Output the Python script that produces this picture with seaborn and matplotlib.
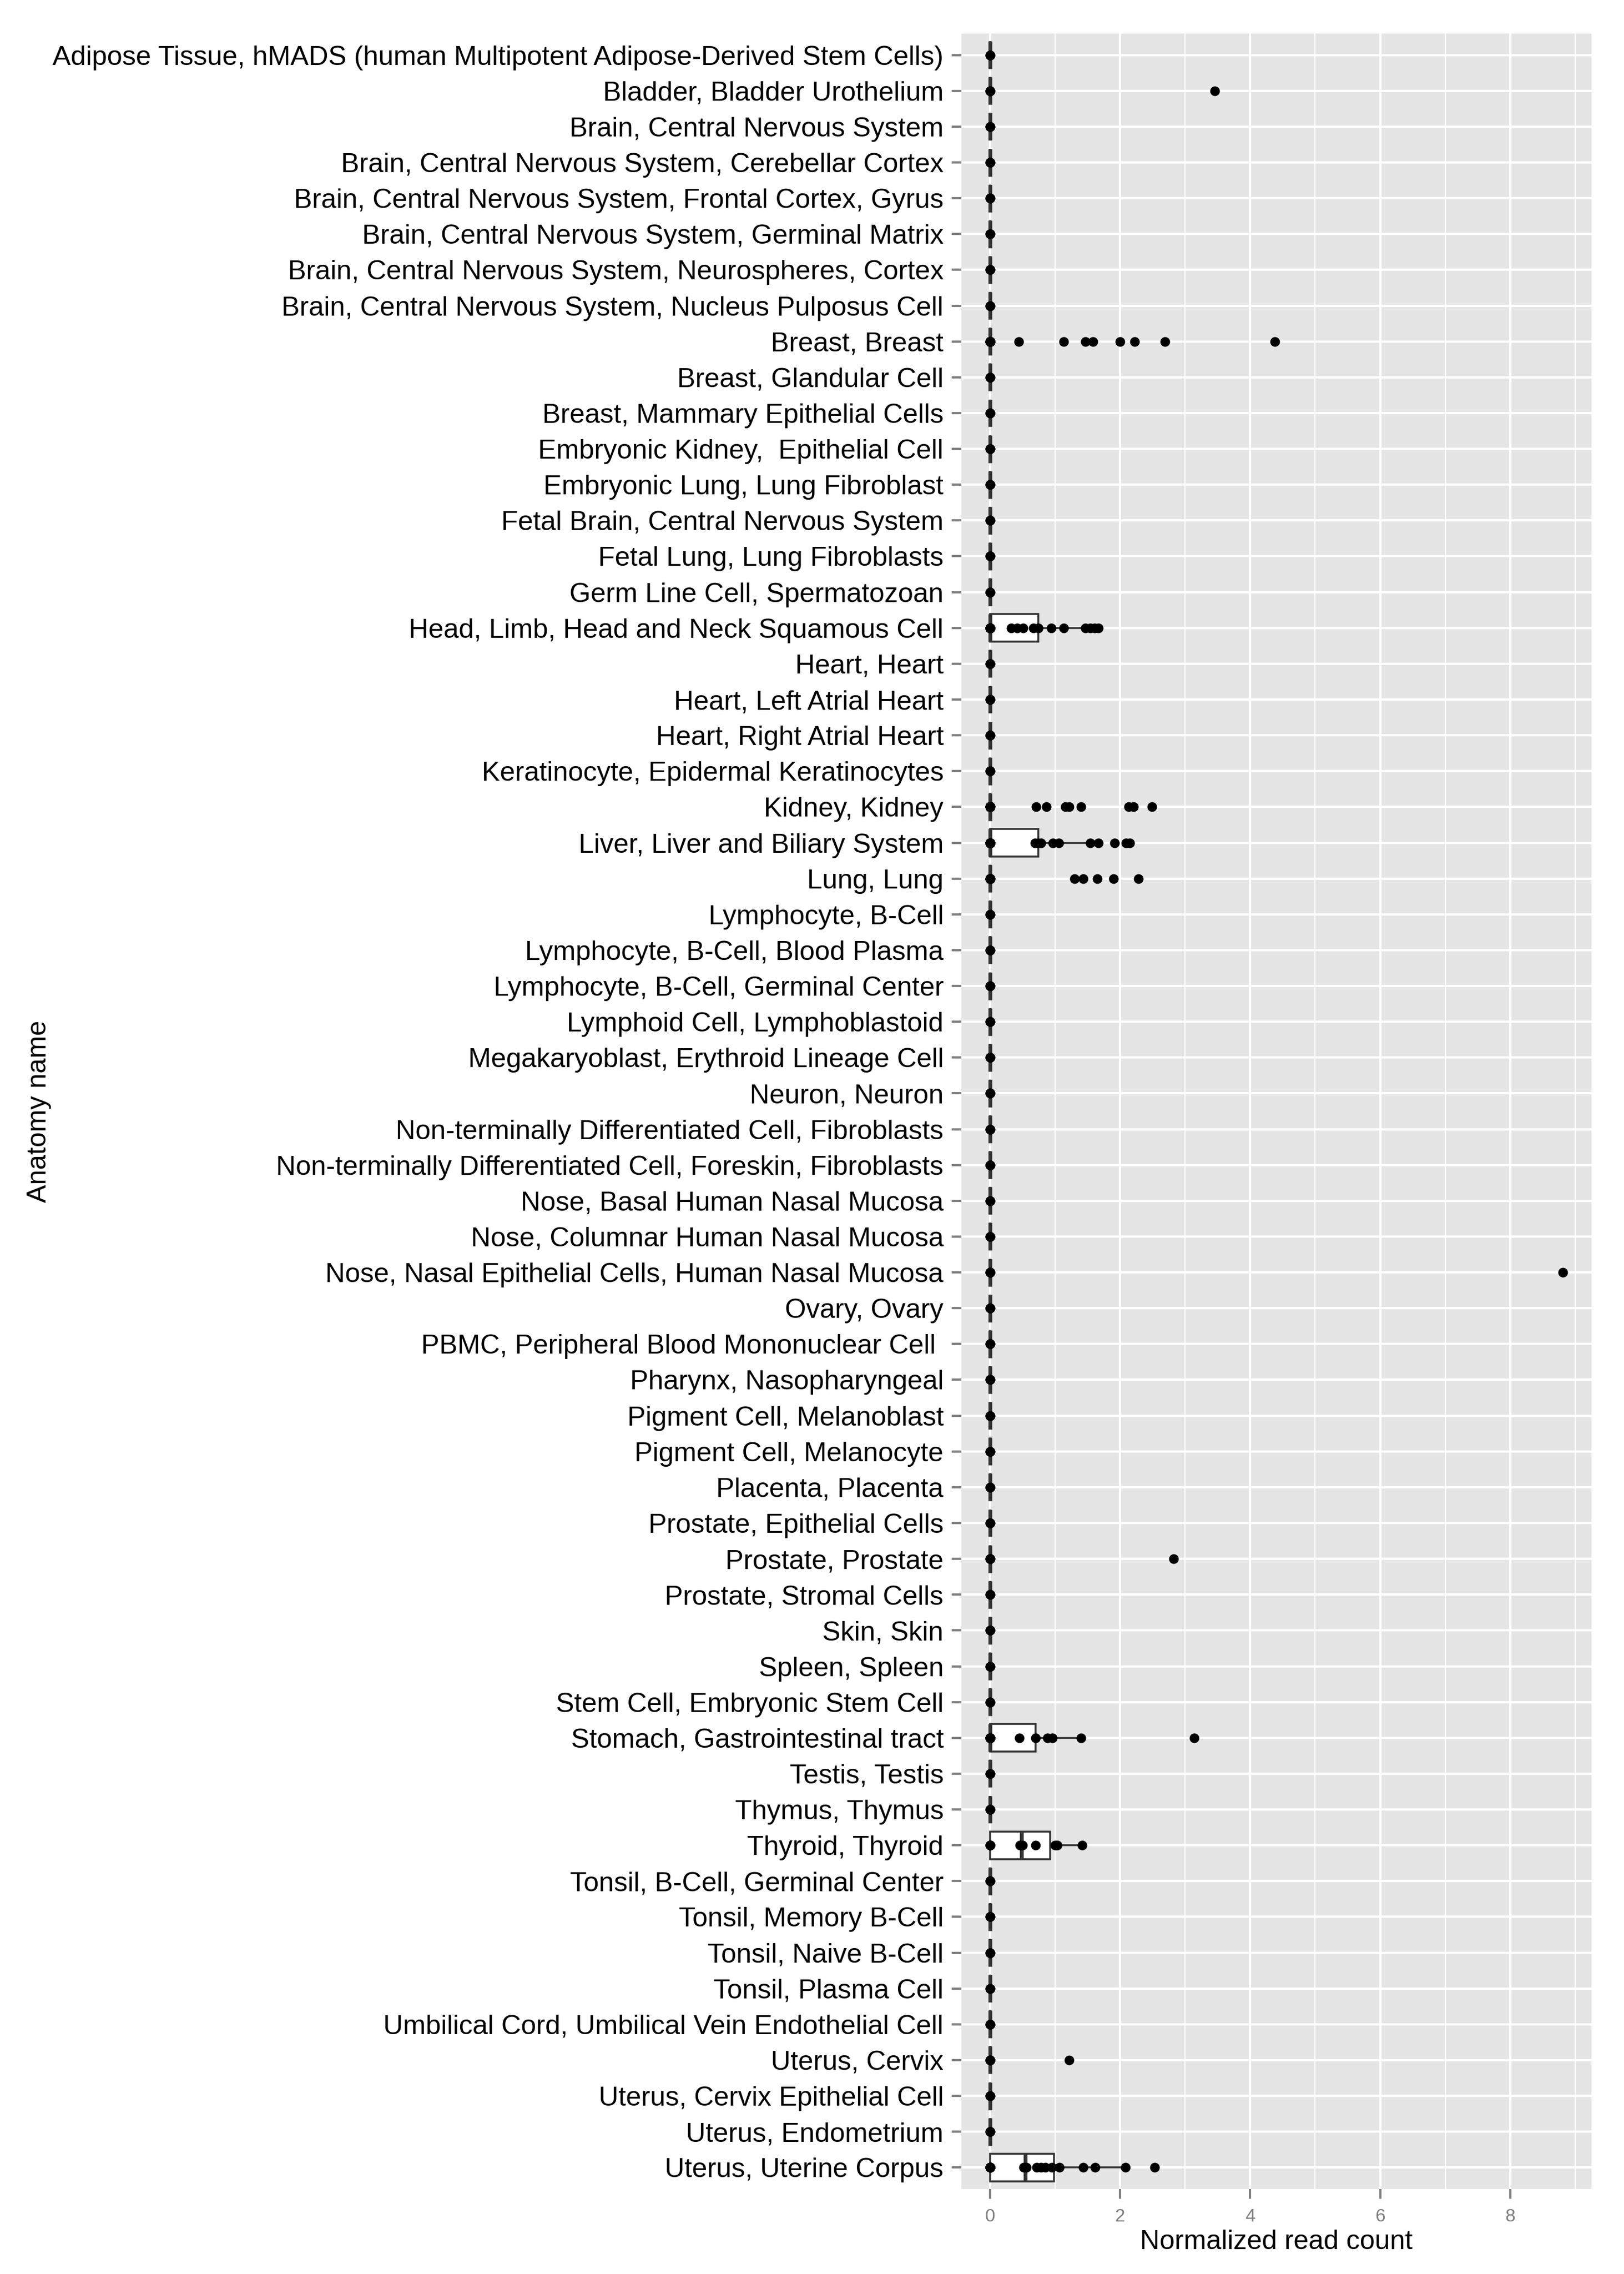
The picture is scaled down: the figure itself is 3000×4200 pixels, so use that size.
import matplotlib
matplotlib.use("Agg")
import matplotlib.pyplot as plt
from matplotlib.ticker import FixedLocator
import numpy as np
import pandas as pd
import seaborn as sns

plt.rcParams['font.family'] = ['Liberation Sans', 'DejaVu Sans']

categories = [
    "Adipose Tissue, hMADS (human Multipotent Adipose-Derived Stem Cells)",
    "Bladder, Bladder Urothelium",
    "Brain, Central Nervous System",
    "Brain, Central Nervous System, Cerebellar Cortex",
    "Brain, Central Nervous System, Frontal Cortex, Gyrus",
    "Brain, Central Nervous System, Germinal Matrix",
    "Brain, Central Nervous System, Neurospheres, Cortex",
    "Brain, Central Nervous System, Nucleus Pulposus Cell",
    "Breast, Breast",
    "Breast, Glandular Cell",
    "Breast, Mammary Epithelial Cells",
    "Embryonic Kidney,  Epithelial Cell",
    "Embryonic Lung, Lung Fibroblast",
    "Fetal Brain, Central Nervous System",
    "Fetal Lung, Lung Fibroblasts",
    "Germ Line Cell, Spermatozoan",
    "Head, Limb, Head and Neck Squamous Cell",
    "Heart, Heart",
    "Heart, Left Atrial Heart",
    "Heart, Right Atrial Heart",
    "Keratinocyte, Epidermal Keratinocytes",
    "Kidney, Kidney",
    "Liver, Liver and Biliary System",
    "Lung, Lung",
    "Lymphocyte, B-Cell",
    "Lymphocyte, B-Cell, Blood Plasma",
    "Lymphocyte, B-Cell, Germinal Center",
    "Lymphoid Cell, Lymphoblastoid",
    "Megakaryoblast, Erythroid Lineage Cell",
    "Neuron, Neuron",
    "Non-terminally Differentiated Cell, Fibroblasts",
    "Non-terminally Differentiated Cell, Foreskin, Fibroblasts",
    "Nose, Basal Human Nasal Mucosa",
    "Nose, Columnar Human Nasal Mucosa",
    "Nose, Nasal Epithelial Cells, Human Nasal Mucosa",
    "Ovary, Ovary",
    "PBMC, Peripheral Blood Mononuclear Cell ",
    "Pharynx, Nasopharyngeal",
    "Pigment Cell, Melanoblast",
    "Pigment Cell, Melanocyte",
    "Placenta, Placenta",
    "Prostate, Epithelial Cells",
    "Prostate, Prostate",
    "Prostate, Stromal Cells",
    "Skin, Skin",
    "Spleen, Spleen",
    "Stem Cell, Embryonic Stem Cell",
    "Stomach, Gastrointestinal tract",
    "Testis, Testis",
    "Thymus, Thymus",
    "Thyroid, Thyroid",
    "Tonsil, B-Cell, Germinal Center",
    "Tonsil, Memory B-Cell",
    "Tonsil, Naive B-Cell",
    "Tonsil, Plasma Cell",
    "Umbilical Cord, Umbilical Vein Endothelial Cell",
    "Uterus, Cervix",
    "Uterus, Cervix Epithelial Cell",
    "Uterus, Endometrium",
    "Uterus, Uterine Corpus",
]

# number of samples with a read count of zero, per category
zero_counts = [3, 4, 3, 3, 3, 3, 3, 3, 25, 3,
               3, 3, 3, 3, 3, 3, 14, 3, 3, 3,
               3, 26, 23, 16, 3, 3, 3, 3, 3, 3,
               3, 3, 3, 3, 4, 3, 3, 3, 3, 3,
               3, 3, 4, 3, 3, 3, 3, 11, 3, 3,
               4, 3, 3, 3, 3, 3, 4, 3, 3, 9]

# non-zero normalized read counts
bladder = [3.46]
breast = [0.44, 1.13, 1.47, 1.58, 2.00, 2.22, 2.69, 4.38]
head_neck = [0.33, 0.42, 0.51, 0.67, 0.74, 0.94, 1.13, 1.47, 1.54, 1.61, 1.67]
kidney = [0.71, 0.87, 1.16, 1.22, 1.40, 2.13, 2.21, 2.49]
liver = [0.69, 0.74, 0.78, 0.97, 1.06, 1.54, 1.67, 1.92, 2.09, 2.15]
lung = [1.30, 1.43, 1.65, 1.90, 2.28]
nose_epithelial = [8.81]
prostate = [2.82]
stomach = [0.45, 0.70, 0.88, 0.96, 1.40, 3.14]
thyroid = [0.46, 0.50, 0.70, 1.00, 1.03, 1.42]
cervix = [1.22]
uterine_corpus = [0.52, 0.56, 0.72, 0.78, 0.85, 0.95, 1.07, 1.43, 1.62, 2.08, 2.53]

nonzero_values = {
    "Bladder, Bladder Urothelium": bladder,
    "Breast, Breast": breast,
    "Head, Limb, Head and Neck Squamous Cell": head_neck,
    "Kidney, Kidney": kidney,
    "Liver, Liver and Biliary System": liver,
    "Lung, Lung": lung,
    "Nose, Nasal Epithelial Cells, Human Nasal Mucosa": nose_epithelial,
    "Prostate, Prostate": prostate,
    "Stomach, Gastrointestinal tract": stomach,
    "Thyroid, Thyroid": thyroid,
    "Uterus, Cervix": cervix,
    "Uterus, Uterine Corpus": uterine_corpus,
}

rows = []
for cat, k in zip(categories, zero_counts):
    for v in [0.0] * k + nonzero_values.get(cat, []):
        rows.append((cat, v))
df = pd.DataFrame(rows, columns=["anatomy", "value"])

fig, ax = plt.subplots(figsize=(10, 14), dpi=300)
fig.subplots_adjust(left=0.592, right=0.98, top=0.98524, bottom=0.03738)

ax.set_facecolor("#E5E5E5")
ax.set_axisbelow(True)

sns.boxplot(data=df, x="value", y="anatomy", order=categories, orient="h",
            width=0.77, color="white", saturation=1, linecolor="#333333",
            linewidth=0.85, showfliers=False, showcaps=False, whis=1.5,
            medianprops=dict(linewidth=1.7, color="#333333"),
            boxprops=dict(facecolor="white"), ax=ax)
sns.stripplot(data=df, x="value", y="anatomy", order=categories, orient="h",
              jitter=False, color="black", size=4.3, linewidth=0, zorder=5, ax=ax)

for s in ax.spines.values():
    s.set_visible(False)

ax.set_xlim(-0.44, 9.25)
ax.set_ylim(len(categories) - 1 + 0.6, -0.6)
ax.xaxis.set_major_locator(FixedLocator([0, 2, 4, 6, 8]))
ax.xaxis.set_minor_locator(FixedLocator([1, 3, 5, 7, 9]))
ax.grid(which="major", color="white", linewidth=1.0)
ax.grid(which="minor", axis="x", color="white", linewidth=0.5)
ax.tick_params(axis="x", which="minor", length=0)
ax.tick_params(axis="both", which="major", length=4.3, width=1.0, color="#7F7F7F")
ax.tick_params(axis="x", labelsize=8, labelcolor="#7F7F7F", pad=4.3)
ax.tick_params(axis="y", labelsize=12.08, labelcolor="black", pad=3.6)

ax.set_xlabel("Normalized read count", fontsize=12, color="black", va="top")
ax.set_ylabel("Anatomy name", fontsize=12, color="black")
ax.xaxis.set_label_coords(0.5, -0.0188)
ax.yaxis.set_label_coords(-1.444, 0.5)

fig.savefig("out.png", dpi=300, facecolor="white")
